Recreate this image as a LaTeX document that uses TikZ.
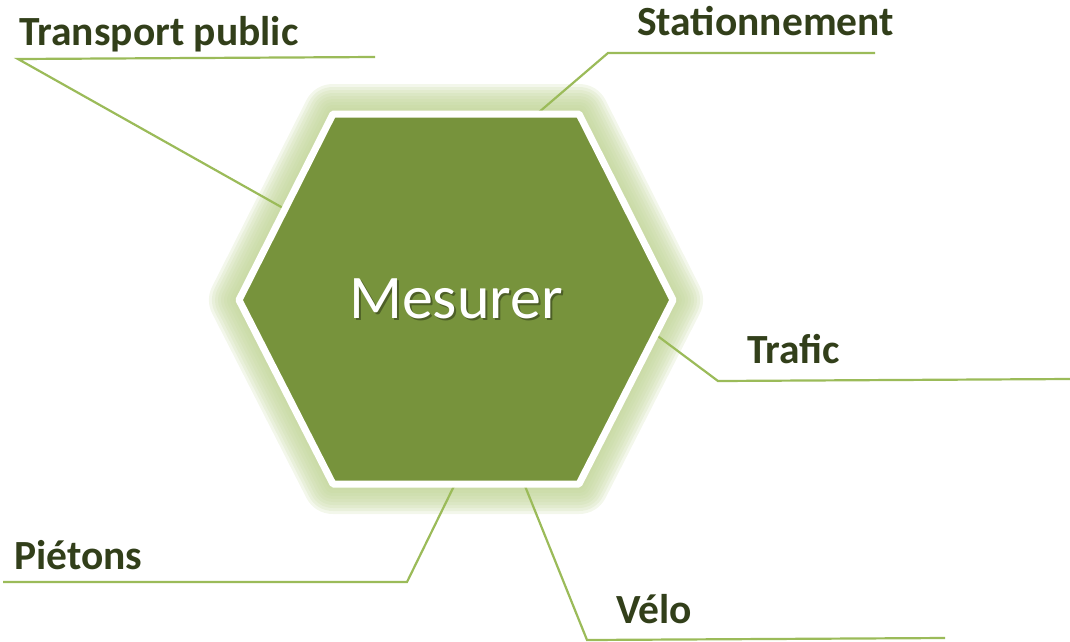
\documentclass[tikz,border=0pt]{standalone}
\usepackage{fontspec}
\setmainfont{Carlito}
\definecolor{hexfill}{RGB}{119,147,60}
\definecolor{glowc}{RGB}{195,214,155}
\definecolor{leadc}{RGB}{155,187,89}
\definecolor{labelc}{RGB}{50,63,26}
\newcommand*{\lblfont}{\fontsize{41.5}{46}\selectfont\bfseries}
\newcommand*{\hexfont}{\fontsize{62}{70}\selectfont}

\begin{document}
\begin{tikzpicture}[x=1pt, y=-1pt,
    lbl/.style={anchor=base west, inner sep=0pt, text=labelc, font=\lblfont},
    lead/.style={draw=leadc, line width=2.2pt},
    glow/.style={draw=glowc, line join=round, draw opacity=0.2}]
    \useasboundingbox (0,0) rectangle (1070,641);
    % hexagon corners
    \coordinate (h1) at (333,114);
    \coordinate (h2) at (579,114);
    \coordinate (h3) at (673,300);
    \coordinate (h4) at (579,484);
    \coordinate (h5) at (333,484);
    \coordinate (h6) at (239,300);
    % soft glow
    \foreach \w in {6,12,...,60}
        \draw [glow, line width=\w pt] (h1) -- (h2) -- (h3) -- (h4) -- (h5) -- (h6) -- cycle;
    % leader lines
    \coordinate (tpin) at (283,208);
    \coordinate (tpel) at (18,59);
    \coordinate (tpend) at (375,57);
    \coordinate (stin) at (538,113);
    \coordinate (stel) at (608,53);
    \coordinate (stend) at (875,53);
    \coordinate (trin) at (655,334);
    \coordinate (trel) at (718,381);
    \coordinate (trend) at (1070,379);
    \coordinate (piin) at (454,486);
    \coordinate (piel) at (407,582);
    \coordinate (piend) at (3,582);
    \coordinate (vein) at (525,486);
    \coordinate (veel) at (587,640);
    \coordinate (veend) at (945,638);
    \draw [lead] (tpin) -- (tpel) -- (tpend);
    \draw [lead] (stin) -- (stel) -- (stend);
    \draw [lead] (trin) -- (trel) -- (trend);
    \draw [lead] (piin) -- (piel) -- (piend);
    \draw [lead] (vein) -- (veel) -- (veend);
    % hexagon
    \draw [fill=hexfill, draw=white, line width=7pt, line join=round]
        (h1) -- (h2) -- (h3) -- (h4) -- (h5) -- (h6) -- cycle;
    \node [text=black, opacity=0.35, font=\hexfont] (mesurershadow) at (458,301) {Mesurer};
    \node [text=white, font=\hexfont] (mesurer) at (456,299) {Mesurer};
    % labels
    \node [lbl] (tp) at (19,45) {Transport public};
    \node [lbl] (st) at (637,35) {Stationnement};
    \node [lbl] (tr) at (747,363) {Trafic};
    \node [lbl] (pi) at (14,569) {Piétons};
    \node [lbl] (ve) at (616,623) {Vélo};
\end{tikzpicture}
\end{document}
